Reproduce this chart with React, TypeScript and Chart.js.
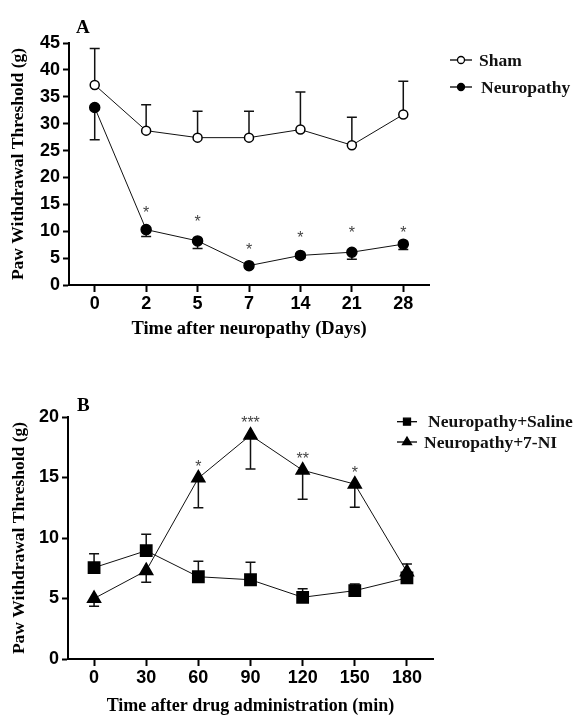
import React, { useEffect, useRef } from "react";
import { Chart, registerables } from "chart.js";

Chart.register(...registerables);

// ---------- Panel A data ----------
const daysLabels = ["0", "2", "5", "7", "14", "21", "28"];
const shamValues = [37.2, 28.7, 27.4, 27.4, 28.9, 26.0, 31.7];
const shamErrEnds = [44.0, 33.5, 32.3, 32.3, 35.9, 31.2, 37.9];
const neuroValues = [33.0, 10.3, 8.2, 3.6, 5.5, 6.1, 7.6];
const neuroErrEnds = [27.0, 9.0, 6.8, 3.2, 5.0, 4.8, 6.6];
const neuroStars = ["", "*", "*", "*", "*", "*", "*"];
const neuroStarY = [null, 13.8, 12.1, 6.9, 9.1, 10.2, 10.2];
const yMaxA = 45;
const yStepA = 5;

// ---------- Panel B data ----------
const minLabels = ["0", "30", "60", "90", "120", "150", "180"];
const salineValues = [7.55, 8.95, 6.8, 6.55, 5.1, 5.65, 6.7];
const salineErrEnds = [8.7, 10.3, 8.07, 8.0, 5.8, 6.2, 7.2];
const niValues = [5.0, 7.3, 14.95, 18.5, 15.6, 14.45, 7.2];
const niErrEnds = [4.35, 6.35, 12.5, 15.7, 13.2, 12.55, 7.85];
const niStars = ["", "", "*", "***", "**", "*", ""];
const niStarY = [null, null, 16.05, 19.7, 16.7, 15.6, null];
const yMaxB = 20;
const yStepB = 5;

const SERIF = "'Liberation Serif', 'Times New Roman', serif";
const SANS = "'Liberation Sans', Arial, sans-serif";

function drawMarker(ctx: CanvasRenderingContext2D, style: string, x: number, y: number, r: number, fill: string) {
  ctx.save();
  ctx.beginPath();
  if (style === "circle") {
    ctx.arc(x, y, r, 0, Math.PI * 2);
  } else if (style === "rect") {
    ctx.rect(x - r, y - r, 2 * r, 2 * r);
  } else if (style === "triangle") {
    ctx.moveTo(x, y - r * 1.1);
    ctx.lineTo(x + r, y + r * 0.6);
    ctx.lineTo(x - r, y + r * 0.6);
    ctx.closePath();
  }
  ctx.fillStyle = fill;
  ctx.fill();
  ctx.lineWidth = 1.3;
  ctx.strokeStyle = "#000";
  ctx.stroke();
  ctx.restore();
}

const errorBarPlugin = {
  id: "errorBars",
  beforeDatasetsDraw(chart: any) {
    const ctx = chart.ctx;
    const yScale = chart.scales.y;
    chart.data.datasets.forEach((ds: any, i: number) => {
      const meta = chart.getDatasetMeta(i);
      const ends = ds.errEnds as number[];
      if (!ends) return;
      meta.data.forEach((pt: any, j: number) => {
        const yEnd = yScale.getPixelForValue(ends[j]);
        ctx.save();
        ctx.strokeStyle = "#111";
        ctx.lineWidth = 1.5;
        ctx.beginPath();
        ctx.moveTo(pt.x, pt.y);
        ctx.lineTo(pt.x, yEnd);
        ctx.moveTo(pt.x - 5, yEnd);
        ctx.lineTo(pt.x + 5, yEnd);
        ctx.stroke();
        ctx.restore();
      });
    });
  },
};

const starsPlugin = {
  id: "stars",
  afterDatasetsDraw(chart: any) {
    const ctx = chart.ctx;
    const yScale = chart.scales.y;
    chart.data.datasets.forEach((ds: any, i: number) => {
      const meta = chart.getDatasetMeta(i);
      if (!ds.stars) return;
      meta.data.forEach((pt: any, j: number) => {
        const s = ds.stars[j];
        const v = ds.starY[j];
        if (!s || v == null) return;
        ctx.save();
        ctx.fillStyle = "#444";
        ctx.font = `16px ${SANS}`;
        ctx.textAlign = "center";
        ctx.textBaseline = "middle";
        ctx.fillText(s, pt.x, yScale.getPixelForValue(v) + 3);
        ctx.restore();
      });
    });
  },
};

const decorPlugin = {
  id: "decor",
  afterDraw(chart: any) {
    const ctx = chart.ctx;
    const o = chart.options.plugins.decor;
    ctx.save();
    ctx.fillStyle = "#000";
    ctx.font = `bold 19px ${SERIF}`;
    ctx.textAlign = "left";
    ctx.textBaseline = "middle";
    ctx.fillText(o.letter, o.letterX, o.letterY);
    chart.data.datasets.forEach((ds: any, i: number) => {
      const item = o.items[i];
      ctx.strokeStyle = "#000";
      ctx.lineWidth = 1.3;
      ctx.beginPath();
      ctx.moveTo(item.lx0, item.y);
      ctx.lineTo(item.lx1, item.y);
      ctx.stroke();
      drawMarker(ctx, ds.pointStyle, (item.lx0 + item.lx1) / 2, item.y, item.mr, ds.pointBackgroundColor);
      ctx.fillStyle = "#111";
      ctx.font = `bold 17.5px ${SERIF}`;
      ctx.textBaseline = "middle";
      ctx.fillText(ds.label, item.tx, item.y + 1);
    });
    ctx.restore();
  },
};

function makeOptions(cfg: any) {
  return {
    responsive: false,
    animation: false,
    events: [],
    layout: { padding: { top: cfg.padTop, right: cfg.padRight, left: 0, bottom: 0 } },
    plugins: {
      legend: { display: false },
      tooltip: { enabled: false },
      decor: cfg.decor,
    },
    scales: {
      x: {
        type: "category",
        offset: true,
        afterFit: (s: any) => {
          s.height = cfg.xHeight;
        },
        grid: {
          display: true,
          drawOnChartArea: false,
          drawTicks: true,
          tickLength: 7,
          tickWidth: 2,
          tickColor: "#000",
          offset: false,
        },
        border: { display: true, color: "#000", width: 2 },
        ticks: { color: "#000", font: { family: SANS, size: 18, weight: "bold" }, padding: 1, maxRotation: 0 },
        title: {
          display: true,
          text: cfg.xTitle,
          color: "#000",
          font: { family: SERIF, size: cfg.xTitleSize, weight: "bold", lineHeight: 1 },
          padding: { top: 0, bottom: cfg.xTitlePad },
        },
      },
      y: {
        min: 0,
        max: cfg.yMax,
        afterFit: (s: any) => {
          s.width = cfg.yWidth;
        },
        grid: {
          display: true,
          drawOnChartArea: false,
          drawTicks: true,
          tickLength: 6,
          tickWidth: 2,
          tickColor: "#000",
        },
        border: { display: true, color: "#000", width: 2 },
        ticks: { stepSize: cfg.yStep, color: "#000", font: { family: SANS, size: 18, weight: "bold" }, padding: 3 },
        title: {
          display: true,
          text: "Paw Withdrawal Threshold (g)",
          color: "#000",
          font: { family: SERIF, size: 17.5, weight: "bold", lineHeight: 1 },
          padding: { top: cfg.yTitlePad, bottom: 0 },
        },
      },
    },
  };
}

function lineDs(label: string, data: number[], errEnds: number[], style: string, radius: number, fill: string, stars?: string[], starY?: (number | null)[]) {
  return {
    label,
    data,
    errEnds,
    stars,
    starY,
    borderColor: "#111",
    borderWidth: 1,
    pointStyle: style,
    pointRadius: radius,
    pointBackgroundColor: fill,
    pointBorderColor: "#000",
    pointBorderWidth: 1.5,
    tension: 0,
    fill: false,
  };
}

function PanelChart({ top, height, config }: { top: number; height: number; config: any }) {
  const ref = useRef<HTMLCanvasElement>(null);
  useEffect(() => {
    const chart = new Chart(ref.current as HTMLCanvasElement, config);
    return () => chart.destroy();
  }, []);
  return (
    <div style={{ position: "absolute", left: 0, top, width: 579, height }}>
      <canvas ref={ref} width={579} height={height} style={{ width: 579, height, display: "block" }} />
    </div>
  );
}

export default function App() {
  const configA: any = {
    type: "line",
    data: {
      labels: daysLabels,
      datasets: [
        lineDs("Sham", shamValues, shamErrEnds, "circle", 4.5, "#fff"),
        lineDs("Neuropathy", neuroValues, neuroErrEnds, "circle", 5, "#000", neuroStars, neuroStarY),
      ],
    },
    options: makeOptions({
      padTop: 43,
      padRight: 150,
      xHeight: 60,
      yWidth: 69,
      yMax: yMaxA,
      yStep: yStepA,
      xTitle: "Time after neuropathy (Days)",
      xTitleSize: 18.5,
      xTitlePad: 7,
      yTitlePad: 10,
      decor: {
        letter: "A",
        letterX: 76,
        letterY: 28,
        items: [
          { lx0: 450, lx1: 472, y: 60, mr: 3.5, tx: 479 },
          { lx0: 450, lx1: 472, y: 87, mr: 3.5, tx: 481 },
        ],
      },
    }),
    plugins: [errorBarPlugin, starsPlugin, decorPlugin],
  };

  const configB: any = {
    type: "line",
    data: {
      labels: minLabels,
      datasets: [
        lineDs("Neuropathy+Saline", salineValues, salineErrEnds, "rect", 8, "#000"),
        lineDs("Neuropathy+7-NI", niValues, niErrEnds, "triangle", 7.5, "#000", niStars, niStarY),
      ],
    },
    options: makeOptions({
      padTop: 52,
      padRight: 146,
      xHeight: 56,
      yWidth: 68,
      yMax: yMaxB,
      yStep: yStepB,
      xTitle: "Time after drug administration (min)",
      xTitleSize: 18,
      xTitlePad: 0,
      yTitlePad: 11,
      decor: {
        letter: "B",
        letterX: 77,
        letterY: 41,
        items: [
          { lx0: 397, lx1: 417, y: 56.7, mr: 3.5, tx: 428 },
          { lx0: 397, lx1: 417, y: 77, mr: 4.5, tx: 424 },
        ],
      },
    }),
    plugins: [errorBarPlugin, starsPlugin, decorPlugin],
  };

  return (
    <div style={{ position: "absolute", left: 0, top: 0, width: 579, height: 715, background: "#fff" }}>
      <PanelChart top={0} height={345} config={configA} />
      <PanelChart top={365} height={350} config={configB} />
    </div>
  );
}
